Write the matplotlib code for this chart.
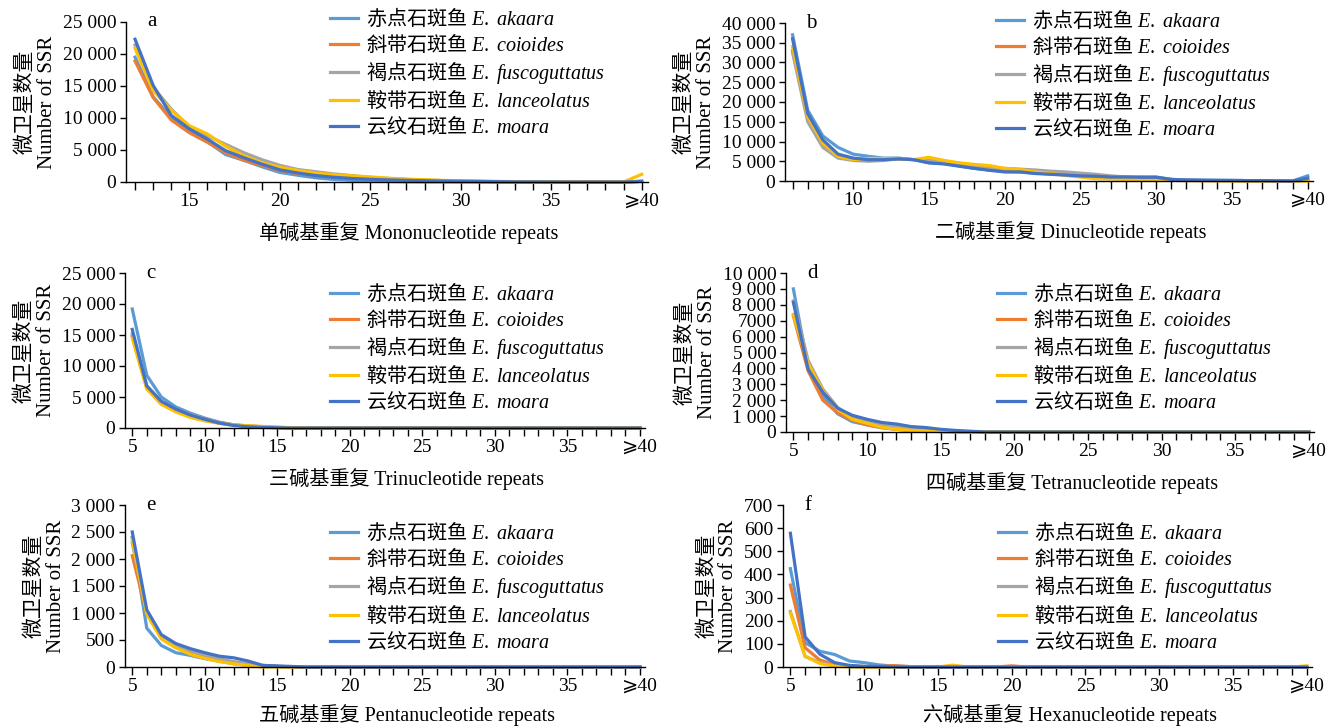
import numpy as np
import matplotlib.pyplot as plt
from matplotlib.font_manager import FontProperties

plt.rcParams['font.family'] = ['Liberation Serif', 'Noto Sans CJK SC', 'DejaVu Sans']
plt.rcParams['mathtext.fontset'] = 'custom'
plt.rcParams['mathtext.it'] = 'Liberation Serif:italic'
plt.rcParams['mathtext.rm'] = 'Liberation Serif'

# legend names and colours (same order in every panel)
species = ['赤点石斑鱼 $\\mathit{E.\\ akaara}$',
           '斜带石斑鱼 $\\mathit{E.\\ coioides}$',
           '褐点石斑鱼 $\\mathit{E.\\ fuscoguttatus}$',
           '鞍带石斑鱼 $\\mathit{E.\\ lanceolatus}$',
           '云纹石斑鱼 $\\mathit{E.\\ moara}$']
colors = ['#5B9BD5', '#ED7D31', '#A5A5A5', '#FFC000', '#4472C4']

# a) mononucleotide, repeats 12..40 (40 means >=40)
mono_x = np.arange(12, 41)
mono_akaara = [19500, 13300, 10100, 8000, 6300, 4300, 3400, 2400, 1500, 1050, 650, 400, 250, 150, 80,
               40, 20, 10, 0, 0, 0, 0, 0, 0, 0, 0, 0, 0, 100]
mono_coioides = [18900, 13200, 9700, 7700, 6200, 4600, 3400, 2600, 1800, 1300, 1050, 800, 650, 550, 450,
                 350, 250, 180, 120, 80, 50, 30, 20, 10, 10, 0, 0, 0, 100]
mono_fusco = [21400, 14800, 11400, 8600, 7200, 5900, 4600, 3500, 2600, 1950, 1600, 1260, 1000, 700, 550,
              400, 300, 220, 150, 100, 60, 40, 30, 20, 10, 10, 0, 0, 100]
mono_lance = [20900, 14300, 11200, 8800, 7500, 5600, 4100, 3000, 2300, 1800, 1400, 1150, 950, 800, 600,
              450, 350, 250, 200, 150, 100, 60, 40, 30, 20, 10, 0, 0, 1200]
mono_moara = [22300, 15100, 10400, 8300, 6700, 4900, 3800, 2800, 1900, 1400, 1000, 740, 550, 420, 330,
              260, 200, 150, 110, 80, 50, 30, 20, 10, 0, 0, 0, 0, 100]

# b) dinucleotide, repeats 6..40
di_x = np.arange(6, 41)
di_akaara = [37000, 17900, 11400, 8500, 6800, 6250, 5800, 5800, 5400, 4600, 4500, 3800, 3200, 2800, 2400,
             2300, 2000, 1800, 1600, 1400, 1300, 1100, 1000, 1000, 1000, 400, 250, 200, 200, 150,
             100, 100, 50, 0, 1300]
di_coioides = [33000, 15800, 9200, 6100, 5400, 5200, 5400, 5600, 5400, 5400, 4800, 4300, 3800, 3500, 2800,
               2700, 2400, 2100, 1800, 1500, 1200, 900, 700, 500, 400, 250, 150, 100, 100, 50,
               50, 0, 0, 0, 300]
di_fusco = [32500, 15000, 8500, 5800, 5200, 5000, 5200, 5600, 5400, 5200, 4750, 4200, 3700, 3400, 3200,
            3000, 2800, 2500, 2300, 2000, 1700, 1300, 1000, 800, 600, 400, 200, 150, 100, 100,
            50, 50, 0, 0, 200]
di_lance = [34000, 16300, 9600, 6250, 5400, 5700, 5700, 5700, 5400, 6000, 5200, 4600, 4200, 3900, 3200,
            2900, 2300, 1900, 1400, 1000, 600, 500, 400, 250, 200, 150, 100, 100, 50, 50,
            0, 0, 0, 0, 0]
di_moara = [36000, 17100, 10400, 6800, 5800, 5400, 5400, 5600, 5400, 4600, 4300, 3750, 3200, 2700, 2300,
            2300, 1900, 1700, 1500, 1300, 1200, 1000, 1000, 950, 950, 400, 250, 200, 150, 150,
            100, 100, 50, 0, 700]

# c) trinucleotide, repeats 5..40
tri_x = np.arange(5, 41)
tri_akaara = [19200, 8500, 5000, 3400, 2400, 1600, 950, 500, 250, 120, 50, 0,
              0, 0, 0, 0, 0, 0, 0, 0, 0, 0, 0, 0,
              0, 0, 0, 0, 0, 0, 0, 0, 0, 0, 0, 0]
tri_coioides = [14800, 6500, 4000, 2800, 1800, 1250, 800, 500, 350, 200, 100, 20,
                0, 0, 0, 0, 0, 0, 0, 0, 0, 0, 0, 0,
                0, 0, 0, 0, 0, 0, 0, 0, 0, 0, 0, 0]
tri_fusco = [15200, 6800, 4300, 3000, 2200, 1500, 900, 500, 300, 150, 60, 0,
             0, 0, 0, 0, 0, 0, 0, 0, 0, 0, 0, 0,
             0, 0, 0, 0, 0, 0, 0, 0, 0, 0, 0, 0]
tri_lance = [14500, 6300, 3800, 2600, 1700, 1150, 750, 450, 370, 250, 150, 50,
             0, 0, 0, 0, 0, 0, 0, 0, 0, 0, 0, 0,
             0, 0, 0, 0, 0, 0, 0, 0, 0, 0, 0, 0]
tri_moara = [15900, 6800, 4300, 3050, 2100, 1400, 800, 400, 200, 100, 40, 0,
             0, 0, 0, 0, 0, 0, 0, 0, 0, 0, 0, 0,
             0, 0, 0, 0, 0, 0, 0, 0, 0, 0, 0, 0]

# d) tetranucleotide, repeats 5..40
tetra_x = np.arange(5, 41)
tetra_akaara = [9000, 4050, 2300, 1150, 650, 450, 270, 170, 100, 60, 30, 10,
                0, 0, 0, 0, 0, 0, 0, 0, 0, 0, 0, 0,
                0, 0, 0, 0, 0, 0, 0, 0, 0, 0, 0, 0]
tetra_coioides = [7300, 3850, 2000, 1200, 750, 450, 280, 170, 100, 60, 30, 10,
                  0, 0, 0, 0, 0, 0, 0, 0, 0, 0, 0, 0,
                  0, 0, 0, 0, 0, 0, 0, 0, 0, 0, 0, 0]
tetra_fusco = [8250, 4500, 2700, 1550, 900, 650, 480, 380, 280, 200, 100, 50,
               0, 0, 0, 0, 0, 0, 0, 0, 0, 0, 0, 0,
               0, 0, 0, 0, 0, 0, 0, 0, 0, 0, 0, 0]
tetra_lance = [7400, 4300, 2600, 1450, 800, 550, 300, 170, 100, 50, 30, 0,
               0, 0, 0, 0, 0, 0, 0, 0, 0, 0, 0, 0,
               0, 0, 0, 0, 0, 0, 0, 0, 0, 0, 0, 0]
tetra_moara = [8150, 3950, 2500, 1500, 1050, 800, 600, 500, 340, 280, 170, 100,
               50, 0, 0, 0, 0, 0, 0, 0, 0, 0, 0, 0,
               0, 0, 0, 0, 0, 0, 0, 0, 0, 0, 0, 0]

# e) pentanucleotide, repeats 5..40
penta_x = np.arange(5, 41)
penta_akaara = [2400, 720, 400, 265, 215, 155, 110, 60, 30, 15, 10, 5,
                0, 0, 0, 0, 0, 0, 0, 0, 0, 0, 0, 0,
                0, 0, 0, 0, 0, 0, 0, 0, 0, 0, 0, 0]
penta_coioides = [2060, 1000, 550, 385, 275, 200, 140, 90, 50, 20, 10, 0,
                  0, 0, 0, 0, 0, 0, 0, 0, 0, 0, 0, 0,
                  0, 0, 0, 0, 0, 0, 0, 0, 0, 0, 0, 0]
penta_fusco = [2300, 1000, 560, 400, 300, 220, 150, 100, 60, 30, 10, 0,
               0, 0, 0, 0, 0, 0, 0, 0, 0, 0, 0, 0,
               0, 0, 0, 0, 0, 0, 0, 0, 0, 0, 0, 0]
penta_lance = [2360, 980, 520, 355, 235, 160, 100, 60, 25, 0, 0, 0,
               0, 0, 0, 0, 0, 0, 0, 0, 0, 0, 0, 0,
               0, 0, 0, 0, 0, 0, 0, 0, 0, 0, 0, 0]
penta_moara = [2500, 1060, 600, 435, 340, 265, 200, 170, 110, 30, 20, 10,
               0, 0, 0, 0, 0, 0, 0, 0, 0, 0, 0, 0,
               0, 0, 0, 0, 0, 0, 0, 0, 0, 0, 0, 0]

# f) hexanucleotide, repeats 5..40
hexa_x = np.arange(5, 41)
hexa_akaara = [425, 105, 68, 54, 26, 19, 9, 4, 2, 0, 0, 0,
               0, 0, 0, 0, 0, 0, 0, 0, 0, 0, 0, 0,
               0, 0, 0, 0, 0, 0, 0, 0, 0, 0, 0, 0]
hexa_coioides = [354, 83, 30, 11, 4, 2, 1, 6, 2, 0, 0, 0,
                 0, 0, 0, 5, 0, 0, 0, 0, 0, 0, 0, 0,
                 0, 0, 0, 0, 0, 0, 0, 0, 0, 0, 0, 0]
hexa_fusco = [240, 45, 20, 5, 2, 0, 0, 0, 0, 0, 0, 0,
              0, 0, 0, 0, 0, 0, 0, 0, 0, 0, 0, 0,
              0, 0, 0, 0, 0, 0, 0, 0, 0, 0, 0, 0]
hexa_lance = [233, 47, 15, 4, 1, 0, 0, 0, 0, 0, 0, 8,
              0, 0, 0, 0, 0, 0, 0, 0, 0, 0, 0, 0,
              0, 0, 0, 0, 0, 0, 0, 0, 0, 0, 0, 5]
hexa_moara = [578, 130, 55, 19, 7, 3, 2, 1, 0, 0, 0, 0,
              0, 0, 0, 0, 0, 0, 0, 0, 0, 0, 0, 0,
              0, 0, 0, 0, 0, 0, 0, 0, 0, 0, 0, 0]

# y ticks and their labels
mono_yticks = [0, 5000, 10000, 15000, 20000, 25000]
mono_ylabels = ['0', '5 000', '10 000', '15 000', '20 000', '25 000']
di_yticks = [0, 5000, 10000, 15000, 20000, 25000, 30000, 35000, 40000]
di_ylabels = ['0', '5 000', '10 000', '15 000', '20 000', '25 000', '30 000', '35 000', '40 000']
tri_yticks = [0, 5000, 10000, 15000, 20000, 25000]
tri_ylabels = ['0', '5 000', '10 000', '15 000', '20 000', '25 000']
tetra_yticks = [0, 1000, 2000, 3000, 4000, 5000, 6000, 7000, 8000, 9000, 10000]
tetra_ylabels = ['0', '1 000', '2 000', '3 000', '4 000', '5 000', '6 000', '7000', '8 000', '9 000', '10 000']
penta_yticks = [0, 500, 1000, 1500, 2000, 2500, 3000]
penta_ylabels = ['0', '500', '1 000', '1 500', '2 000', '2 500', '3 000']
hexa_yticks = [0, 100, 200, 300, 400, 500, 600, 700]
hexa_ylabels = ['0', '100', '200', '300', '400', '500', '600', '700']

W, H = 1344, 726
fig = plt.figure(figsize=(W / 100, H / 100), dpi=100)

# legend text: CJK font outside the math part, Liberation Serif italic inside it
leg_font = FontProperties(family='Noto Sans CJK SC', size=14.5)


def panel(box, x, series, yticks, ylabels, xlab, letter, leg_xy, xlab_off=51):
    l, t, r, b = box
    ax = fig.add_axes([l / W, 1 - b / H, (r - l) / W, (b - t) / H])
    for y, lab, c in zip(series, species, colors):
        ax.plot(x, y, color=c, lw=2.3, label=lab, clip_on=False, solid_joinstyle='round')
    ax.set_xlim(x[0] - 0.5, 40.35)
    ax.set_ylim(0, yticks[-1])
    ax.set_xticks(x)
    ax.set_xticklabels(['⩾40' if v == 40 else (str(v) if v % 5 == 0 else '') for v in x])
    ax.set_yticks(yticks)
    ax.set_yticklabels(ylabels)
    ax.tick_params(axis='x', direction='out', length=6, width=1, pad=2, labelsize=14)
    ax.tick_params(axis='y', direction='out', length=4, width=1, pad=3, labelsize=14)
    for s in ['top', 'right']:
        ax.spines[s].set_visible(False)
    for s in ['left', 'bottom']:
        ax.spines[s].set_linewidth(1.0)
    ax.set_ylabel('微卫星数量\nNumber of SSR', fontsize=15, linespacing=1.15, labelpad=4)
    ax.set_xlabel(xlab, fontsize=14.5)
    ax.xaxis.set_label_coords(0.542, -xlab_off / (b - t))
    ax.xaxis.label.set_va('center')
    ax.text(0.04, 1.0, letter, transform=ax.transAxes, fontsize=15, va='center')
    ax.legend(loc='upper left', bbox_to_anchor=leg_xy, frameon=False, prop=leg_font,
              handlelength=1.4, handletextpad=0.4, labelspacing=0.15,
              borderpad=0, borderaxespad=0)
    return ax


panel((126, 22, 648, 182), mono_x,
      [mono_akaara, mono_coioides, mono_fusco, mono_lance, mono_moara],
      mono_yticks, mono_ylabels, '单碱基重复 Mononucleotide repeats', 'a', (0.391, 1.10))
panel((785, 23, 1313, 181), di_x,
      [di_akaara, di_coioides, di_fusco, di_lance, di_moara],
      di_yticks, di_ylabels, '二碱基重复 Dinucleotide repeats', 'b', (0.40, 1.095))
panel((125, 273, 645, 428), tri_x,
      [tri_akaara, tri_coioides, tri_fusco, tri_lance, tri_moara],
      tri_yticks, tri_ylabels, '三碱基重复 Trinucleotide repeats', 'c', (0.394, 0.95))
panel((786, 273, 1314, 432), tetra_x,
      [tetra_akaara, tetra_coioides, tetra_fusco, tetra_lance, tetra_moara],
      tetra_yticks, tetra_ylabels, '四碱基重复 Tetranucleotide repeats', 'd', (0.40, 0.95))
panel((125, 505, 645, 667), penta_x,
      [penta_akaara, penta_coioides, penta_fusco, penta_lance, penta_moara],
      penta_yticks, penta_ylabels, '五碱基重复 Pentanucleotide repeats', 'e', (0.394, 0.905), 48)
panel((783, 505, 1312, 667), hexa_x,
      [hexa_akaara, hexa_coioides, hexa_fusco, hexa_lance, hexa_moara],
      hexa_yticks, hexa_ylabels, '六碱基重复 Hexanucleotide repeats', 'f', (0.406, 0.905), 48)

fig.savefig('out.png', dpi=100)
